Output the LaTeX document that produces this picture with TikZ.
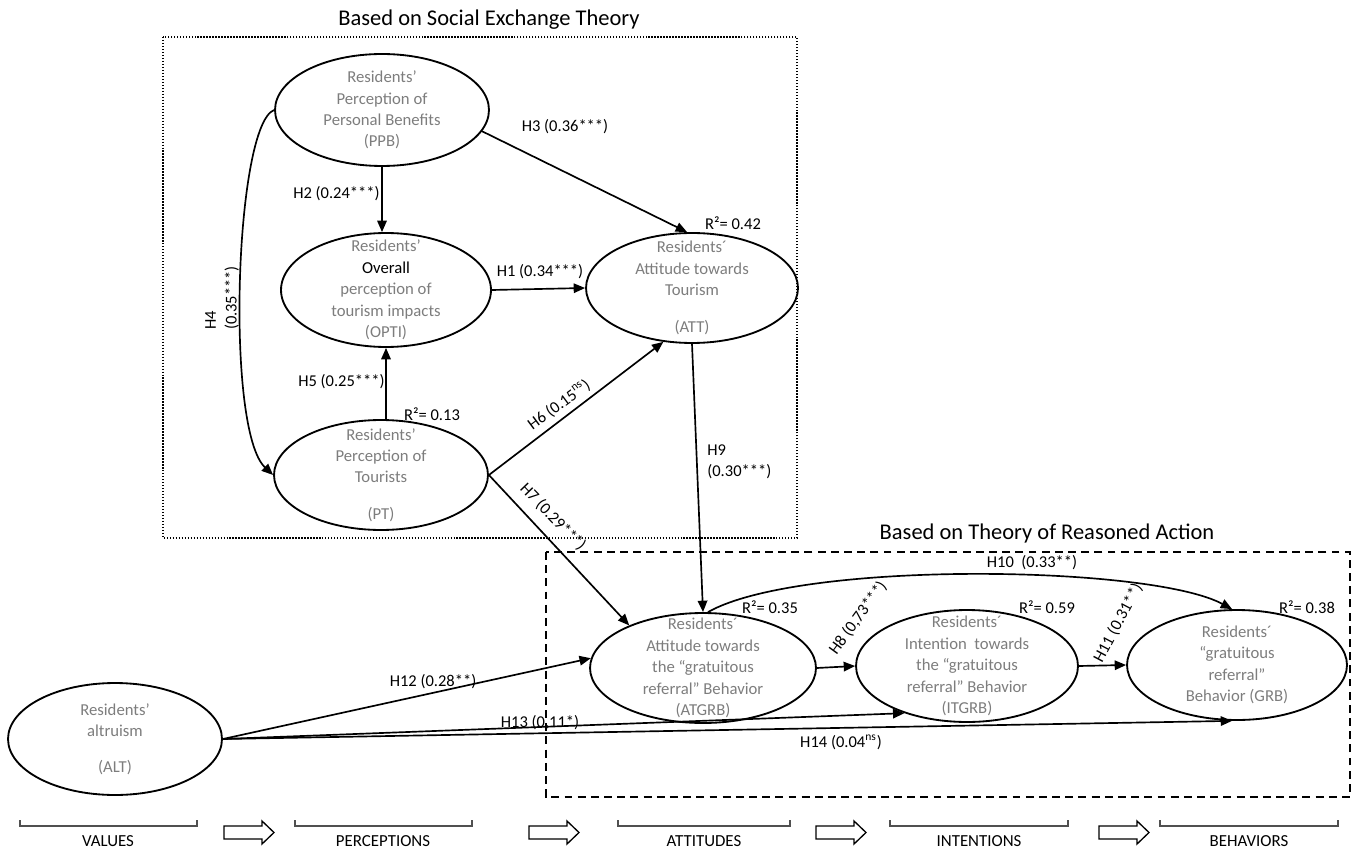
\documentclass[tikz,border=0pt]{standalone}
\usepackage{fontspec}
\setmainfont{Carlito}
\usetikzlibrary{shapes.geometric,arrows.meta}
\definecolor{tg}{RGB}{125,125,125}
\definecolor{bg}{RGB}{80,80,80}
\begin{document}
\begin{tikzpicture}[x=0.02cm,y=-0.02cm,
  ell/.style={ellipse,draw,line width=1.05pt,inner sep=0pt},
  etext/.style={align=center,text=tg,font=\fontsize{9.5}{12.2}\selectfont,inner sep=0pt},
  lbl/.style={font=\fontsize{9.4}{11.8}\selectfont,inner sep=0pt},
  ttl/.style={font=\fontsize{12.8}{15}\selectfont,inner sep=0pt},
  blbl/.style={font=\fontsize{9.6}{11}\selectfont,inner sep=0pt},
  conn/.style={line width=0.95pt,-{Triangle[length=6.5pt,width=5.4pt]}},
  dotbox/.style={line width=0.8pt,dash pattern=on 0.8pt off 0.9pt},
  dashbox/.style={line width=0.9pt,dash pattern=on 4.5pt off 3pt},
  brk/.style={line width=0.6pt,draw=bg},
  hollow/.style={line width=0.75pt}
]
\useasboundingbox (0,0) rectangle (1354,854);

% boxes and titles
\draw[dotbox] (163,37) rectangle (797,538);
\draw[dashbox] (546,552) rectangle (1350,797);
\node[ttl] (t1) at (489,20) {Based on Social Exchange Theory};
\node[ttl] (t2) at (1047,534) {Based on Theory of Reasoned Action};

% constructs
\node[ell,minimum width=4.28cm,minimum height=2.24cm] (ppb) at (382,110) {};
\node[etext] (ppbt) at (ppb) {Residents’\\Perception of\\Personal Benefits\\(PPB)};

\node[ell,minimum width=4.2cm,minimum height=2.28cm] (opti) at (386,290) {};
\node[etext] (optit) at (opti) {Residents’\\\color{black}Overall\\perception of\\tourism impacts\\(OPTI)};

\node[ell,minimum width=4.24cm,minimum height=2.2cm] (att) at (692,288) {};
\node[etext] (attt) at (att) {Residents´\\Attitude towards\\Tourism\\[9pt](ATT)};

\node[ell,minimum width=4.28cm,minimum height=2.2cm] (pt) at (381,475) {};
\node[etext] (ptt) at (pt) {Residents’\\Perception of\\Tourists\\[8.5pt](PT)};

\node[ell,minimum width=4.28cm,minimum height=2.24cm] (alt) at (115,739) {};
\node[etext] (altt) at (alt) {Residents’\\altruism\\[8pt](ALT)};

\node[ell,minimum width=4.52cm,minimum height=2.2cm] (atgrb) at (703,668) {};
\node[etext] (atgrbt) at (atgrb) {Residents´\\Attitude towards\\the “gratuitous\\referral” Behavior\\(ATGRB)};

\node[ell,minimum width=4.44cm,minimum height=2.24cm] (itgrb) at (967,666) {};
\node[etext] (itgrbt) at (itgrb) {Residents´\\Intention\ \ towards\\the “gratuitous\\referral” Behavior\\(ITGRB)};

\node[ell,minimum width=4.4cm,minimum height=2.2cm] (grb) at (1237,665) {};
\node[etext] (grbt) at (grb) {Residents´\\“gratuitous\\referral”\\Behavior (GRB)};

% connectors
\draw[conn] (ppb.south) -- (ppb.south |- opti.north);
\draw[conn] (opti.south |- pt.north) -- (opti.south);
\draw[conn] (opti.east) -- (att.west);
\draw[conn] (ppb.-12) -- (att.95);
\draw[conn] (ppb.west) .. controls (235,125) and (225,430) .. (pt.west);
\draw[conn] (pt.east) -- (att.242);
\draw[conn] (pt.east) -- (atgrb.150);
\draw[conn] (att.south) -- (atgrb.north);
\draw[conn] (atgrb.85) .. controls (800,560) and (1150,565) .. (grb.95);
\draw[conn] (atgrb.east) -- (itgrb.west);
\draw[conn] (itgrb.east) -- (grb.west);
\draw[conn] (alt.east) -- (atgrb.175);
\draw[conn] (alt.east) -- (itgrb.217);
\draw[conn] (alt.east) -- (grb.265);

% path labels
\node[lbl,anchor=east] (lh2) at (380,194) {H2 (0.24***)};
\node[lbl] (lh3) at (565,127) {H3 (0.36***)};
\node[lbl] (lh1) at (540,272) {H1 (0.34***)};
\node[lbl,align=left,rotate=90] (lh4) at (222,298) {H4\\(0.35***)};
\node[lbl,anchor=east] (lh5) at (385,382) {H5 (0.25***)};
\node[lbl] (r13) at (432,414) {R²= 0.13};
\node[lbl] (r42) at (733,223) {R²= 0.42};
\node[lbl,rotate=36.6] (lh6) at (559,405) {H6 (0.15\textsuperscript{ns})};
\node[lbl,rotate=-46] (lh7) at (553,517) {H7 (0.29***)};
\node[lbl,align=left,anchor=west] (lh9) at (707,462) {H9\\(0.30***)};
\node[lbl,rotate=54] (lh8) at (858,618) {H8 (0,73***)};
\node[lbl] (lh10) at (1032,563) {H10\ \ (0.33**)};
\node[lbl,rotate=62] (lh11) at (1118,623) {H11 (0.31**)};
\node[lbl] (r35) at (770,607) {R²= 0.35};
\node[lbl] (r59) at (1047,607) {R²= 0.59};
\node[lbl] (r38) at (1307,607) {R²= 0.38};
\node[lbl] (lh12) at (433,682) {H12 (0.28**)};
\node[lbl] (lh13) at (540,723) {H13 (0,11*)};
\node[lbl] (lh14) at (841,742) {H14 (0.04\textsuperscript{ns})};

% bottom stages
\draw[brk] (20,820) -- (20,826) -- (197,826) -- (197,820);
\draw[brk] (295,820) -- (295,826) -- (472,826) -- (472,820);
\draw[brk] (618,820) -- (618,826) -- (790,826) -- (790,820);
\draw[brk] (890,820) -- (890,826) -- (1068,826) -- (1068,820);
\draw[brk] (1160,820) -- (1160,826) -- (1338,826) -- (1338,820);
\node[blbl] (sv) at (108,841) {VALUES};
\node[blbl] (sp) at (383,841) {PERCEPTIONS};
\node[blbl] (sa) at (704,841) {ATTITUDES};
\node[blbl] (si) at (979,841) {INTENTIONS};
\node[blbl] (sb) at (1249,841) {BEHAVIORS};
\foreach \x in {224,529,816,1099}{
  \draw[hollow] (\x,826) -- (\x+38,826) -- (\x+38,821) -- (\x+50,832.5) -- (\x+38,844) -- (\x+38,839) -- (\x,839) -- cycle;
}
\end{tikzpicture}
\end{document}
